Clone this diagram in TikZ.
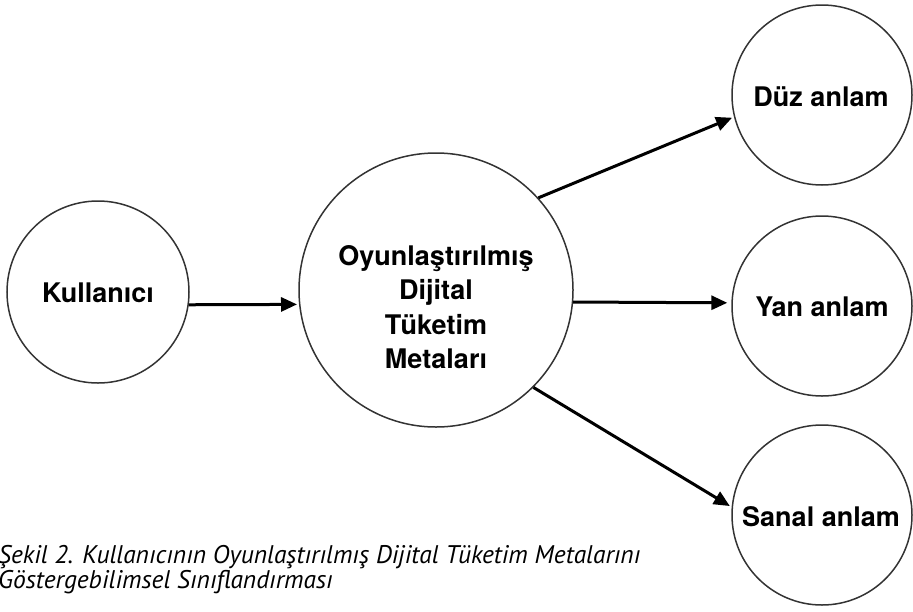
\documentclass[tikz,border=0pt]{standalone}
\usepackage{fontspec}
\usetikzlibrary{arrows.meta}
\newfontfamily\lblfont{TeX Gyre Heros}
\newfontfamily\capfont{PT Sans}
\begin{document}
\begin{tikzpicture}[x=1pt,y=-1pt,
  circ/.style={draw=black!80,line width=1.5pt,circle,inner sep=0pt},
  lbl/.style={font=\lblfont\bfseries\fontsize{27}{34.5}\selectfont,align=center,inner sep=0pt},
  conn/.style={line width=3pt,-{Triangle[length=16pt,width=14pt]},shorten >=2pt},
  captxt/.style={font=\capfont\itshape\fontsize{25.5}{25}\selectfont,anchor=base west,inner sep=0pt}]
\useasboundingbox (0,0) rectangle (913,611);
% circles
\node[circ,minimum size=182pt] (K) at (98,292) {};
\node[circ,minimum size=274pt] (C) at (436,290) {};
\node[circ,minimum size=180pt] (D) at (822,95) {};
\node[circ,minimum size=180pt] (Y) at (822,306) {};
\node[circ,minimum size=180pt] (S) at (822,515) {};
% labels
\node[lbl] (Kt) at (98,293) {Kullanıcı};
\node[lbl] (Ct) at (436,307) {Oyunlaştırılmış\\Dijital\\Tüketim\\Metaları};
\node[lbl] (Dt) at (821,97) {Düz anlam};
\node[lbl] (Yt) at (822,307) {Yan anlam};
\node[lbl] (St) at (821,517) {Sanal anlam};
% connectors
\draw[conn] (K.-8.2) -- (C.186.3);
\draw[conn] (C.42.4) -- (D.194.8);
\draw[conn,shorten >=4pt] (C.-5.9) -- (Y.178.7);
\draw[conn] (C.-45.3) -- (S.175);
% caption
\node[captxt] (cap1) at (-2,563) {Şekil 2. Kullanıcının Oyunlaştırılmış Dijital Tüketim Metalarını};
\node[captxt] (cap2) at (-2,588) {Göstergebilimsel Sınıflandırması};
\end{tikzpicture}
\end{document}
